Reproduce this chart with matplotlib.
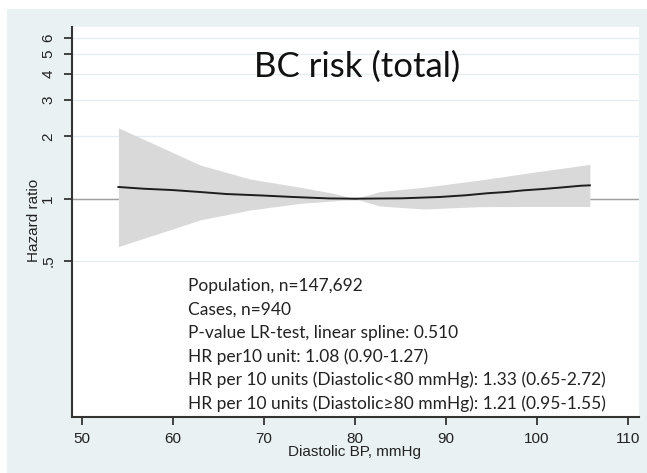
import matplotlib
matplotlib.use("Agg")
import matplotlib.pyplot as plt
from matplotlib.patches import Rectangle
from matplotlib.ticker import FixedLocator, NullLocator

# Fitted hazard ratio curve (spline) by diastolic BP
bp = [54.0, 56.8, 59.9, 63.0, 65.9, 69.6, 73.2, 77.1, 80.0,
      85.1, 89.3, 92.2, 94.5, 96.6, 98.6, 100.7, 102.9, 104.8, 105.8]
hr = [1.139, 1.117, 1.101, 1.077, 1.053, 1.037, 1.019, 1.003, 1.000,
      1.004, 1.019, 1.039, 1.062, 1.077, 1.098, 1.114, 1.135, 1.155, 1.16]

# 95% confidence band
ci_bp = [54.0, 63.0, 68.5, 74.0, 77.6, 80.0, 82.7, 87.5, 93.7, 99.2, 105.8]
ci_hi = [2.20, 1.453, 1.244, 1.135, 1.062, 1.0, 1.081, 1.135, 1.230, 1.334, 1.465]
ci_lo = [0.587, 0.790, 0.882, 0.950, 0.975, 1.0, 0.922, 0.892, 0.915, 0.917, 0.917]

y_ticks = [0.5, 1, 2, 3, 4, 5, 6]
y_labels = [".5", "1", "2", "3", "4", "5", "6"]
x_ticks = [50, 60, 70, 80, 90, 100, 110]

notes = [
    "Population, n=147,692",
    "Cases, n=940",
    "P-value LR-test, linear spline: 0.510",
    "HR per10 unit: 1.08 (0.90-1.27)",
    "HR per 10 units (Diastolic<80 mmHg): 1.33 (0.65-2.72)",
    "HR per 10 units (Diastolic\u226580 mmHg): 1.21 (0.95-1.55)",
]

W, H = 647, 473
fig = plt.figure(figsize=(W / 100, H / 100), dpi=100, facecolor="white")

# bluish-gray graph region
fig.patches.append(Rectangle((7 / W, 0), 1, (H - 9) / H, transform=fig.transFigure,
                             facecolor="#e9f1f3", edgecolor="none", zorder=-10))

ax = fig.add_axes([72 / W, (H - 417) / H, (639 - 72) / W, (417 - 27) / H])
ax.set_zorder(1)
ax.set_facecolor("white")
ax.set_yscale("log")
ax.set_xlim(48.9, 111.2)
ax.set_ylim(0.0882, 6.75)

for t in y_ticks:
    ax.axhline(t, color="#e4edf0", lw=1, zorder=1)
ax.axhline(1, color="#a0a0a0", lw=1, zorder=2)

ax.fill_between(ci_bp, ci_lo, ci_hi, color="#d9d9d9", lw=0, zorder=3)
ax.plot(bp, hr, color="#1e1e1e", lw=1.4, zorder=4)

ax.yaxis.set_major_locator(FixedLocator(y_ticks))
ax.yaxis.set_minor_locator(NullLocator())
ax.set_yticklabels(y_labels)
ax.set_xticks(x_ticks)

for s in ["top", "right"]:
    ax.spines[s].set_visible(False)
for s in ["left", "bottom"]:
    ax.spines[s].set_color("#333333")
    ax.spines[s].set_linewidth(1.5)

ax.tick_params(axis="both", direction="out", length=6, width=1.3, color="#333333",
               labelcolor="#222222")
ax.tick_params(axis="y", pad=6)
ax.tick_params(axis="x", pad=5)
for lab in ax.get_yticklabels():
    lab.set_rotation(90)
    lab.set_va("center")
    lab.set_fontfamily("Liberation Sans")
    lab.set_fontsize(11)
for lab in ax.get_xticklabels():
    lab.set_fontfamily("Liberation Sans")
    lab.set_fontsize(11)

fig.text(34 / W, (H - 220) / H, "Hazard ratio", rotation=90, ha="center", va="center",
         family="Liberation Sans", fontsize=11, color="#222222", zorder=2)
fig.text(355 / W, (H - 452) / H, "Diastolic BP, mmHg", ha="center", va="center",
         family="Liberation Sans", fontsize=11, color="#222222", zorder=2)

fig.text(357 / W, (H - 77) / H, "BC risk (total)", ha="center", va="baseline",
         family=["Lato", "DejaVu Sans"], fontsize=25, color="#111111", zorder=2)

for i, line in enumerate(notes):
    fig.text(188 / W, (H - (290.7 + 23.66 * i)) / H, line, ha="left", va="baseline",
             family=["Lato", "DejaVu Sans"], fontsize=12.5, color="#222222", zorder=2)

fig.savefig("out.png", dpi=100, facecolor="white")
